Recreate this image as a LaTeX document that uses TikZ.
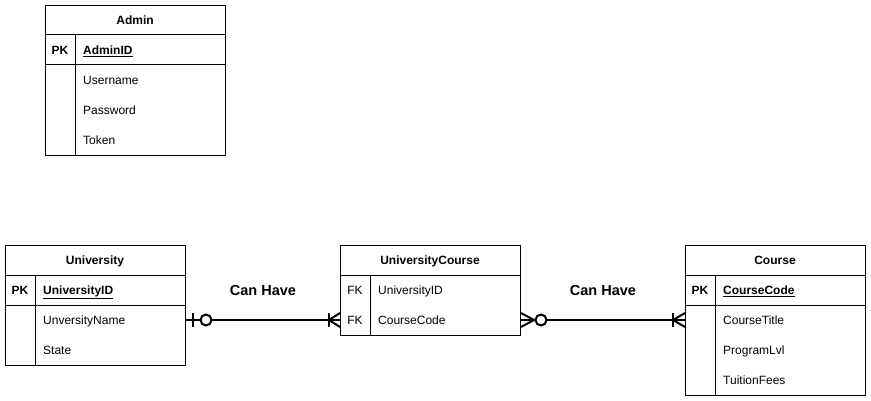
\documentclass[tikz,border=0pt]{standalone}
\usepackage{fontspec}
\setmainfont{Liberation Sans}
\begin{document}
\begin{tikzpicture}[x=1pt,y=-1pt,
    tbl/.style={draw, line width=1pt, minimum width=180pt, anchor=north west, inner sep=0},
    rule/.style={line width=1pt},
    hdr/.style={font=\fontsize{12}{14}\selectfont\bfseries, inner sep=0, text height=8.6pt, text depth=0pt},
    key/.style={font=\fontsize{12}{14}\selectfont, inner sep=0, text height=8.6pt, text depth=0pt},
    fld/.style={font=\fontsize{12}{14}\selectfont, anchor=west, inner sep=0, text height=8.6pt, text depth=0pt},
    conn/.style={line width=2pt},
    lbl/.style={font=\fontsize{14.5}{17}\selectfont\bfseries, inner sep=0, text height=10.4pt, text depth=0pt}]
  \useasboundingbox (0,0) rectangle (871,401);

  % Drawing table Admin
  \node [tbl, minimum height=150pt] (admin) at (45,5) {};
  \draw [rule] (45,35) -- (225,35) (45,65) -- (225,65) (75,35) -- (75,155);
  \node [hdr] (adminHead) at (135,20) {Admin};
  \node [key, font=\fontsize{12}{14}\selectfont\bfseries] (adminPK) at (60,50) {PK};
  \node [fld, font=\fontsize{12}{14}\selectfont\bfseries] (adminID) at (83,50) {\underline{AdminID}};
  \node [fld] (adminUser) at (83,80) {Username};
  \node [fld] (adminPass) at (83,110) {Password};
  \node [fld] (adminToken) at (83,140) {Token};

  % Drawing table University
  \node [tbl, minimum height=120pt] (university) at (5,245) {};
  \draw [rule] (5,275) -- (185,275) (5,305) -- (185,305) (35,275) -- (35,365);
  \node [hdr] (uniHead) at (95,260) {University};
  \node [key, font=\fontsize{12}{14}\selectfont\bfseries] (uniPK) at (20,290) {PK};
  \node [fld, font=\fontsize{12}{14}\selectfont\bfseries] (uniID) at (43,290) {\underline{UniversityID}};
  \node [fld] (uniName) at (43,320) {UnversityName};
  \node [fld] (uniState) at (43,350) {State};

  % Drawing table UniversityCourse
  \node [tbl, minimum height=90pt] (uc) at (340,245) {};
  \draw [rule] (340,275) -- (520,275) (370,275) -- (370,335);
  \node [hdr] (ucHead) at (430,260) {UniversityCourse};
  \node [key] (ucFK1) at (355,290) {FK};
  \node [fld] (ucUni) at (378,290) {UniversityID};
  \node [key] (ucFK2) at (355,320) {FK};
  \node [fld] (ucCode) at (378,320) {CourseCode};

  % Drawing table Course
  \node [tbl, minimum height=150pt] (course) at (685,245) {};
  \draw [rule] (685,275) -- (865,275) (685,305) -- (865,305) (715,275) -- (715,395);
  \node [hdr] (courseHead) at (775,260) {Course};
  \node [key, font=\fontsize{12}{14}\selectfont\bfseries] (coursePK) at (700,290) {PK};
  \node [fld, font=\fontsize{12}{14}\selectfont\bfseries] (courseCode) at (723,290) {\underline{CourseCode}};
  \node [fld] (courseTitle) at (723,320) {CourseTitle};
  \node [fld] (courseLvl) at (723,350) {ProgramLvl};
  \node [fld] (courseFees) at (723,380) {TuitionFees};

  % Drawing relation University - UniversityCourse
  \coordinate (uniEnd) at (uniName -| university.east);
  \coordinate (ucLeft) at (ucCode -| uc.west);
  \draw [conn] (uniEnd) -- node [lbl, above=24pt] (have1) {Can Have} (ucLeft);
  \draw [conn] ([shift={(7,-7)}]uniEnd) -- ++(0,14);
  \draw [conn, fill=white] ([shift={(20,0)}]uniEnd) circle (5.5pt);
  \draw [conn] ([shift={(0,-7)}]ucLeft) -- ([shift={(-11,0)}]ucLeft) -- ([shift={(0,7)}]ucLeft);
  \draw [conn] ([shift={(-11,-7)}]ucLeft) -- ++(0,14);

  % Drawing relation UniversityCourse - Course
  \coordinate (ucRight) at (ucCode -| uc.east);
  \coordinate (courseEnd) at (courseTitle -| course.west);
  \draw [conn] (ucRight) -- node [lbl, above=24pt] (have2) {Can Have} (courseEnd);
  \draw [conn] ([shift={(0,-7)}]ucRight) -- ([shift={(13,0)}]ucRight) -- ([shift={(0,7)}]ucRight);
  \draw [conn, fill=white] ([shift={(20,0)}]ucRight) circle (5.5pt);
  \draw [conn] ([shift={(0,-7)}]courseEnd) -- ([shift={(-12,0)}]courseEnd) -- ([shift={(0,7)}]courseEnd);
  \draw [conn] ([shift={(-12,-7)}]courseEnd) -- ++(0,14);
\end{tikzpicture}
\end{document}
